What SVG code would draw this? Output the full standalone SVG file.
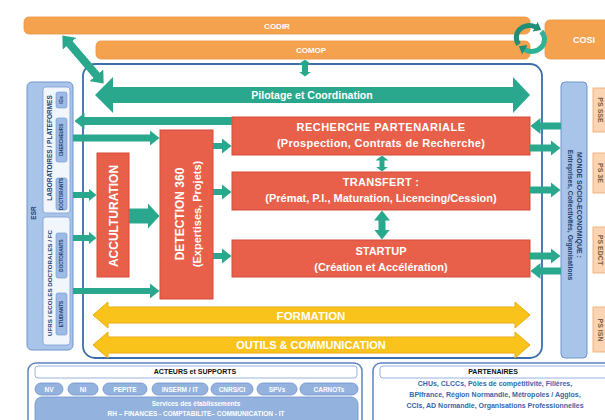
<svg xmlns="http://www.w3.org/2000/svg" width="605" height="420" viewBox="0 0 605 420">
<style>
text{font-family:"Liberation Sans",Arial,sans-serif;font-weight:bold}
.w{fill:#fff}
.or{fill:#f5a24f;stroke:#e99440;stroke-width:0.8}
.red{fill:#e8604a;stroke:#d44c38;stroke-width:1}
.tl{stroke:#29a88e;fill:none}
.tf{fill:#29a88e}
.yl{fill:#f9c31c;stroke:#e9ad14;stroke-width:1}
.lb{fill:#a9c4e9;stroke:#6f93cc;stroke-width:1}
.sub{fill:#f1f6fd;stroke:#7f9fd3;stroke-width:0.8}
.sb{fill:#9dbbe6;stroke:#6f93cc;stroke-width:0.6}
.pill{fill:#93b2dd;stroke:#6f93cc;stroke-width:0.8}
.ps{fill:#fbd4b3;stroke:#eaa76d;stroke-width:0.8}
.dk{fill:#23406e}
.pt{fill:#3567a8}
.frame{fill:none;stroke:#3e6eaa;stroke-width:1.8}
.panel{fill:#fff;stroke:#5a84c2;stroke-width:1.5}
.hdr{fill:#fff;stroke:#7f9fd3;stroke-width:0.8}
</style>
<defs>
<marker id="hs" markerUnits="userSpaceOnUse" markerWidth="8" markerHeight="13" refX="0.5" refY="6.5" orient="auto-start-reverse"><path d="M0,0L8,6.5L0,13z" fill="#29a88e"/></marker>
<marker id="hm" markerUnits="userSpaceOnUse" markerWidth="10" markerHeight="16" refX="0.5" refY="8" orient="auto-start-reverse"><path d="M0,0L10,8L0,16z" fill="#29a88e"/></marker>
<marker id="hl" markerUnits="userSpaceOnUse" markerWidth="12" markerHeight="26" refX="0.5" refY="13" orient="auto-start-reverse"><path d="M0,0L12,13L0,26z" fill="#29a88e"/></marker>
<marker id="hv" markerUnits="userSpaceOnUse" markerWidth="5" markerHeight="13" refX="0.5" refY="6.5" orient="auto-start-reverse"><path d="M0,0L5,6.5L0,13z" fill="#29a88e"/></marker>
<marker id="hd" markerUnits="userSpaceOnUse" markerWidth="11" markerHeight="18" refX="0.5" refY="9" orient="auto-start-reverse"><path d="M0,0L11,9L0,18z" fill="#29a88e"/></marker>
<marker id="hc" markerUnits="userSpaceOnUse" markerWidth="7" markerHeight="11" refX="0.5" refY="5.5" orient="auto"><path d="M0,0L7,5.5L0,11z" fill="#1f8f78"/></marker>
</defs>
<rect width="605" height="420" fill="#fff"/>

<g id="codir"><rect class="or" x="24" y="17" width="506" height="17" rx="5"/><text class="w" x="277" y="28.5" font-size="8" text-anchor="middle">CODIR</text></g>
<g id="comop"><rect class="or" x="96" y="41" width="434" height="18" rx="5"/><text class="w" x="311" y="53" font-size="8" text-anchor="middle">COMOP</text></g>
<g id="cosi"><rect class="or" x="545" y="20" width="70" height="39" rx="5"/><text class="w" x="584" y="43" font-size="9" text-anchor="middle">COSI</text></g>

<g id="frame"><rect class="frame" x="83" y="64" width="459" height="294" rx="12"/></g>

<g id="esr">
<rect class="lb" x="27" y="82" width="46" height="268" rx="5"/>
<text class="dk" font-size="6.5" text-anchor="middle" transform="translate(36,213) rotate(-90)">ESR</text>
<rect class="sub" x="43" y="87" width="27" height="126" rx="3"/>
<rect class="sub" x="43" y="217" width="27" height="128" rx="3"/>
<text class="dk" font-size="6.5" text-anchor="middle" transform="translate(51.5,148) rotate(-90)">LABORATOIRES / PLATEFORMES</text>
<text class="dk" font-size="6.2" text-anchor="middle" transform="translate(51.5,283) rotate(-90)">UFRS / ECOLES DOCTORALES / FC</text>
<rect class="sb" x="56" y="92" width="11" height="16" rx="2"/>
<rect class="sb" x="56" y="118" width="11" height="44" rx="2"/>
<rect class="sb" x="56" y="178" width="11" height="32" rx="2"/>
<rect class="sb" x="56" y="233" width="11" height="45" rx="2"/>
<rect class="sb" x="56" y="293" width="11" height="42" rx="2"/>
<g class="dk" font-size="4.6" text-anchor="middle">
<text transform="translate(63.2,100) rotate(-90)">IGs</text>
<text transform="translate(63.2,140) rotate(-90)">CHERCHEURS</text>
<text transform="translate(63.2,194) rotate(-90)">DOCTORANTS</text>
<text transform="translate(63.2,255.5) rotate(-90)">DOCTORANTS</text>
<text transform="translate(63.2,314) rotate(-90)">ETUDIANTS</text>
</g>
</g>

<g id="monde">
<rect class="lb" x="561" y="82" width="26" height="276" rx="4"/>
<text class="dk" font-size="7" text-anchor="middle" transform="translate(579,205) rotate(90)" y="2.5">MONDE SOCIO-ECONOMIQUE :</text>
<text class="dk" font-size="6.8" text-anchor="middle" transform="translate(570.5,215) rotate(90)" y="2.5">Entreprises, Collectivités, Organisations</text>
</g>

<g id="ps">
<rect class="ps" x="593" y="88" width="20" height="44"/>
<rect class="ps" x="593" y="153" width="20" height="40"/>
<rect class="ps" x="593" y="227" width="20" height="46"/>
<rect class="ps" x="593" y="307" width="20" height="45"/>
<g fill="#7a5a3e" font-size="7" text-anchor="middle">
<text transform="translate(600,110) rotate(90)" y="2.5">PS SSE</text>
<text transform="translate(600,173) rotate(90)" y="2.5">PS 3E</text>
<text transform="translate(600,250) rotate(90)" y="2.5">PS EDCT</text>
<text transform="translate(600,330) rotate(90)" y="2.5">PS ISN</text>
</g>
</g>

<g id="pilotage"><polygon class="tf" points="95,95 113,77 113,87 513,87 513,77 530,95 513,113 513,103 113,103 113,113"/><text class="w" x="312" y="99" font-size="10.5" text-anchor="middle">Pilotage et Coordination</text></g>

<g id="recherche"><rect class="red" x="232" y="117" width="298" height="38"/>
<text class="w" font-size="11" text-anchor="middle" x="381" y="131" letter-spacing="0.5">RECHERCHE PARTENARIALE</text>
<text class="w" font-size="11" text-anchor="middle" x="381" y="147" letter-spacing="0.3">(Prospection, Contrats de Recherche)</text></g>
<g id="transfert"><rect class="red" x="232" y="172" width="298" height="38"/>
<text class="w" font-size="11" text-anchor="middle" x="381" y="186" letter-spacing="0.3">TRANSFERT :</text>
<text class="w" font-size="11" text-anchor="middle" x="381" y="202">(Prémat, P.I., Maturation, Licencing/Cession)</text></g>
<g id="startup"><rect class="red" x="232" y="240" width="298" height="37"/>
<text class="w" font-size="11" text-anchor="middle" x="381" y="255">STARTUP</text>
<text class="w" font-size="11" text-anchor="middle" x="381" y="271">(Création et Accélération)</text></g>
<g id="detection"><rect class="red" x="160" y="130" width="53" height="169"/>
<text class="w" font-size="12" text-anchor="middle" transform="translate(184,214) rotate(-90)">DETECTION 360</text>
<text class="w" font-size="11" text-anchor="middle" transform="translate(201,214) rotate(-90)">(Expertises, Projets)</text></g>
<g id="acculturation"><rect class="red" x="97" y="153" width="32" height="124"/>
<text class="w" font-size="12" text-anchor="middle" transform="translate(117.5,216) rotate(-90)">ACCULTURATION</text></g>

<g id="formation"><polygon class="yl" points="93,315 108,302 108,307 515,307 515,302 530,315 515,328 515,323 108,323 108,328"/><text class="w" x="311" y="319.5" font-size="11.5" text-anchor="middle">FORMATION</text></g>
<g id="outils"><polygon class="yl" points="93,345 108,332 108,337 515,337 515,332 530,345 515,358 515,353 108,353 108,358"/><text class="w" x="311" y="349" font-size="11" text-anchor="middle">OUTILS &amp; COMMUNICATION</text></g>

<g id="acteurs">
<rect class="panel" x="28" y="363" width="334" height="70" rx="8"/>
<rect class="hdr" x="35" y="366" width="322" height="12" rx="3"/>
<text x="195" y="373.5" font-size="7" text-anchor="middle" fill="#111">ACTEURS et SUPPORTS</text>
<rect class="pill" x="35" y="383" width="28" height="12" rx="6"/>
<rect class="pill" x="68" y="383" width="30" height="12" rx="6"/>
<rect class="pill" x="103" y="383" width="44" height="12" rx="6"/>
<rect class="pill" x="152" y="383" width="56" height="12" rx="6"/>
<rect class="pill" x="211" y="383" width="42" height="12" rx="6"/>
<rect class="pill" x="257" y="383" width="40" height="12" rx="6"/>
<rect class="pill" x="300" y="383" width="58" height="12" rx="6"/>
<g class="w" font-size="6.5" text-anchor="middle">
<text x="49" y="391.5">NV</text><text x="83" y="391.5">NI</text><text x="125" y="391.5">PEPITE</text><text x="180" y="391.5">INSERM / IT</text><text x="232" y="391.5">CNRS/CI</text><text x="277" y="391.5">SPVs</text><text x="329" y="391.5">CARNOTs</text>
</g>
<rect class="pill" x="35" y="397" width="323" height="30" rx="7"/>
<text class="w" x="196" y="405.5" font-size="6.5" text-anchor="middle">Services des établissements</text>
<text class="w" x="196" y="415.5" font-size="6.5" text-anchor="middle">RH – FINANCES - COMPTABILITE– COMMUNICATION - IT</text>
</g>

<g id="partenaires">
<rect class="panel" x="373" y="363" width="245" height="70" rx="8"/>
<rect class="hdr" x="380" y="366" width="230" height="12" rx="3"/>
<text x="493" y="374" font-size="7" text-anchor="middle" fill="#111">PARTENAIRES</text>
<g class="pt" font-size="7" text-anchor="middle">
<text x="495" y="385.5">CHUs, CLCCs, Pôles de compétitivité, Filières,</text>
<text x="495" y="396.5">BPIfrance, Région Normandie, Métropoles / Agglos,</text>
<text x="495" y="407.5">CCIs, AD Normandie, Organisations Professionnelles</text>
</g>
</g>

<g id="connectors" class="tl">
<line x1="69.2" y1="43.4" x2="96.8" y2="75.6" stroke-width="8" marker-start="url(#hd)" marker-end="url(#hd)"/>
<line x1="305" y1="64" x2="305" y2="72" stroke-width="6" marker-start="url(#hv)" marker-end="url(#hv)"/>
<path d="M518.7,44.5 A13,12 0 0 1 535.5,27" stroke="#1f8f78" stroke-width="5" marker-end="url(#hc)"/>
<path d="M541.3,31.5 A13,12 0 0 1 524.5,49.5" stroke="#2fb397" stroke-width="5" marker-end="url(#hc)"/>
<line x1="232" y1="121" x2="84" y2="121" stroke-width="8" marker-end="url(#hm)"/>
<line x1="73" y1="138" x2="150" y2="138" stroke-width="7" marker-end="url(#hm)"/>
<line x1="73" y1="195" x2="89" y2="195" stroke-width="6" marker-end="url(#hs)"/>
<line x1="73" y1="238" x2="89" y2="238" stroke-width="6" marker-end="url(#hs)"/>
<line x1="73" y1="291" x2="150" y2="291" stroke-width="6" marker-end="url(#hm)"/>
<line x1="129" y1="216" x2="148" y2="216" stroke-width="15" marker-end="url(#hl)"/>
<line x1="213" y1="146" x2="222" y2="146" stroke-width="6" marker-end="url(#hm)"/>
<line x1="213" y1="192" x2="222" y2="192" stroke-width="6" marker-end="url(#hm)"/>
<line x1="213" y1="256" x2="222" y2="256" stroke-width="6" marker-end="url(#hm)"/>
<line x1="382" y1="160" x2="382" y2="167" stroke-width="5" marker-start="url(#hv)" marker-end="url(#hv)"/>
<line x1="382" y1="220" x2="382" y2="230" stroke-width="7" marker-start="url(#hm)" marker-end="url(#hm)"/>
<line x1="561" y1="126" x2="540" y2="126" stroke-width="7" marker-end="url(#hm)"/>
<line x1="530" y1="148" x2="551" y2="148" stroke-width="7" marker-end="url(#hm)"/>
<line x1="530" y1="190" x2="551" y2="190" stroke-width="7" marker-end="url(#hm)"/>
<line x1="530" y1="256" x2="551" y2="256" stroke-width="7" marker-end="url(#hm)"/>
<line x1="561" y1="271" x2="540" y2="271" stroke-width="7" marker-end="url(#hm)"/>
</g>
</svg>
